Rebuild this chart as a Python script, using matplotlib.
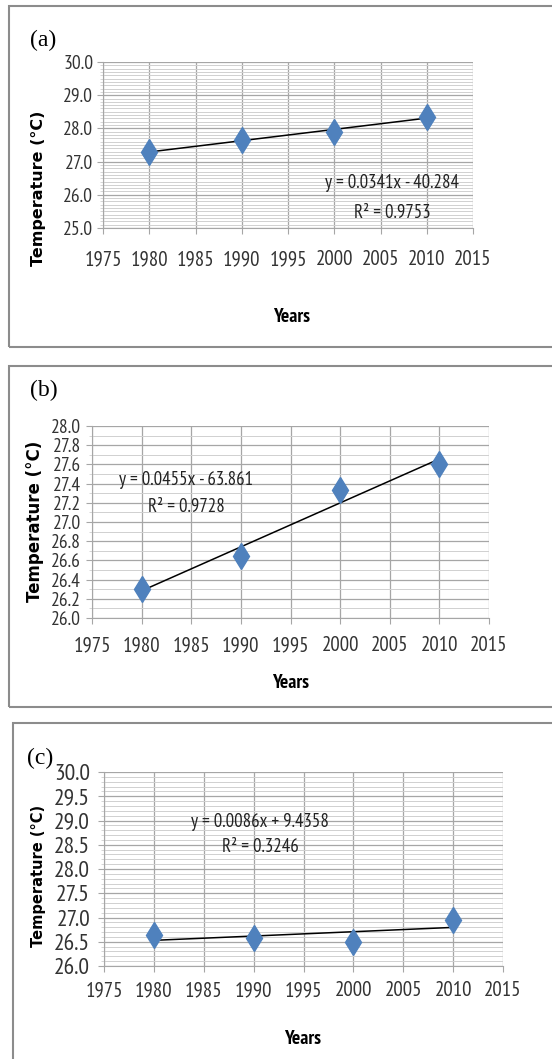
import numpy as np
import matplotlib.pyplot as plt
from matplotlib.patches import Rectangle

# data
years = [1980, 1990, 2000, 2010]
temp_a = [27.3, 27.65, 27.9, 28.35]
temp_b = [26.3, 26.65, 27.33, 27.6]
temp_c = [26.63, 26.57, 26.5, 26.95]
eq_a = ['y = 0.0341x - 40.284', 'R² = 0.9753']
eq_b = ['y = 0.0455x - 63.861', 'R² = 0.9728']
eq_c = ['y = 0.0086x + 9.4358', 'R² = 0.3246']
xticks = [1975, 1980, 1985, 1990, 1995, 2000, 2005, 2010, 2015]

W, H = 552, 1059
NARROW = ['PT Sans Narrow', 'DejaVu Sans']
fig = plt.figure(figsize=(W / 100, H / 100), dpi=100)


def fx(x):
    return x / W


def fy(y):
    return 1 - y / H


def panel(box, yr, ymaj, temps, eq, eqpos, ytfs, xpad, ypad):
    l, t, r, b = box
    ax = fig.add_axes([fx(l), fy(b), fx(r - l), (b - t) / H])
    ax.set_xlim(1975, 2015)
    ax.set_ylim(yr[0], yr[1])
    ax.set_xticks(xticks)
    yt = np.arange(yr[0], yr[1] + 0.001, ymaj)
    ax.set_yticks(yt)
    ax.set_yticks(np.arange(yr[0], yr[1] + 0.001, 0.1), minor=True)
    ax.set_yticklabels(['%.1f' % v for v in yt], family=NARROW, fontsize=ytfs, color='#333333')
    ax.set_xticklabels([str(v) for v in xticks], family=NARROW, fontsize=15, color='#333333')
    ax.grid(True, which='major', axis='both', color='#a6a6a6', lw=0.9)
    ax.grid(True, which='minor', axis='y', color='#d0d0d0', lw=0.7)
    ax.set_axisbelow(True)
    for s in ['top', 'right']:
        ax.spines[s].set_visible(False)
    for s in ['left', 'bottom']:
        ax.spines[s].set_color('#a6a6a6')
    ax.tick_params(axis='x', which='major', length=4, color='#a6a6a6', pad=xpad)
    ax.tick_params(axis='y', which='major', length=4, color='#a6a6a6', pad=ypad)
    ax.tick_params(axis='y', which='minor', length=2, color='#d0d0d0')
    # linear trend
    k, c = np.polyfit(years, temps, 1)
    xs = np.array([years[0], years[-1]])
    ax.plot(xs, k * xs + c, color='black', lw=1.1, zorder=3)
    ax.plot(years, temps, linestyle='none', marker='d', markersize=13,
            color='#4f81bd', markeredgecolor='#4f81bd', zorder=4)
    ax.text(eqpos[0], eqpos[1], eq[0], transform=ax.transAxes, ha='center', va='center',
            family=NARROW, fontsize=13.5, color='#222222')
    ax.text(eqpos[0], eqpos[2], eq[1], transform=ax.transAxes, ha='center', va='center',
            family=NARROW, fontsize=13.5, color='#222222')
    return ax


def frame(x0, y0, y1):
    fig.add_artist(Rectangle((fx(x0), fy(y1)), 1.2, (y1 - y0) / H, transform=fig.transFigure,
                             fill=False, edgecolor='#8c8c8c', lw=1.5))


# (a)
frame(9, 6, 347)
panel((103, 62, 473, 228), (25, 30), 1.0, temp_a, eq_a, (0.781, 0.271, 0.09), 14, 12, 3)
fig.text(fx(43), fy(40), '(a)', family='Liberation Serif', fontsize=17, ha='center', va='center')
fig.text(fx(39), fy(188), 'Temperature (°C)', rotation=90, fontweight='bold', fontsize=11.5,
         ha='center', va='center')
fig.text(fx(292), fy(317), 'Years', family=NARROW, fontweight='bold', fontsize=14,
         ha='center', va='center')

# (b)
frame(9, 366, 707)
panel((92, 426, 489, 618), (26, 28), 0.2, temp_b, eq_b, (0.237, 0.717, 0.577), 14, 9, 4)
fig.text(fx(44), fy(390), '(b)', family='Liberation Serif', fontsize=17, ha='center', va='center')
fig.text(fx(35), fy(521), 'Temperature (°C)', rotation=90, fontweight='bold', fontsize=12,
         ha='center', va='center')
fig.text(fx(291), fy(683), 'Years', family=NARROW, fontweight='bold', fontsize=14,
         ha='center', va='center')

# (c)
frame(13, 723, 1100)
panel((104, 772, 503, 966), (26, 30), 0.5, temp_c, eq_c, (0.391, 0.741, 0.612), 17, 7, 6)
fig.text(fx(40), fy(758), '(c)', family='Liberation Serif', fontsize=17, ha='center', va='center')
fig.text(fx(39), fy(876), 'Temperature (°C)', rotation=90, fontweight='bold', fontsize=10.5,
         ha='center', va='center')
fig.text(fx(303), fy(1039), 'Years', family=NARROW, fontweight='bold', fontsize=14,
         ha='center', va='center')

fig.savefig('out.png', dpi=100)
